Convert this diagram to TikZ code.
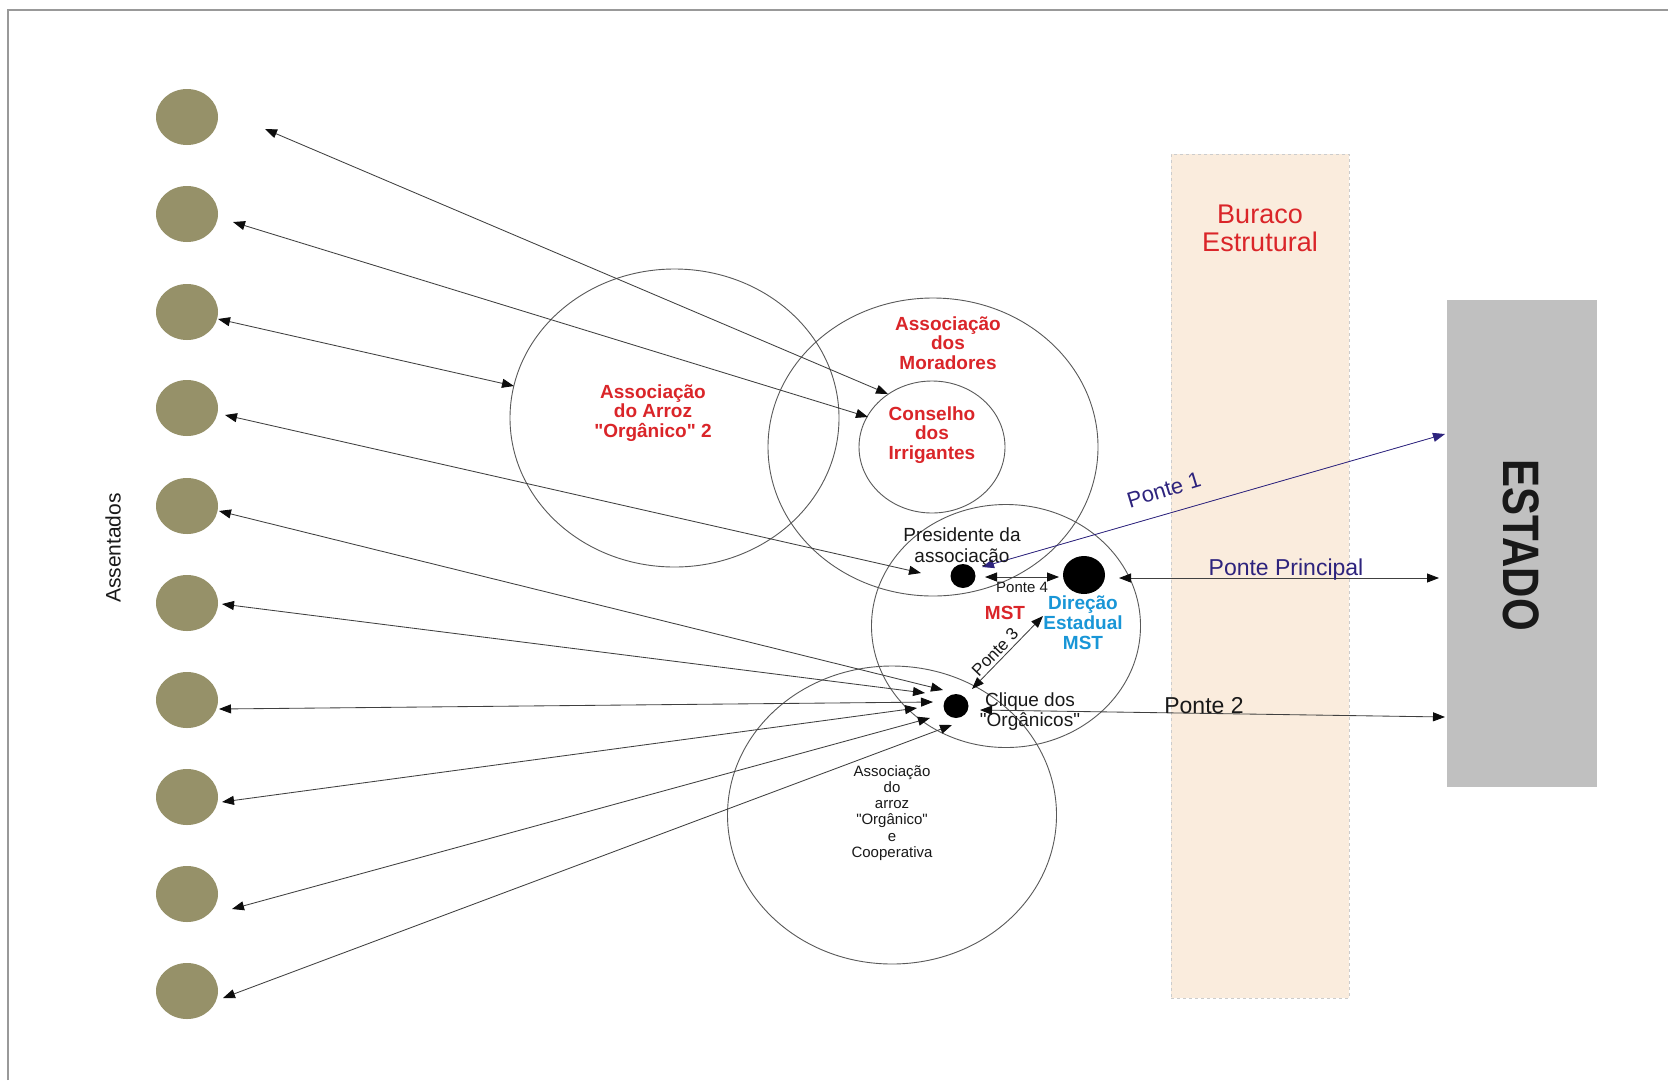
\documentclass[tikz,border=0pt]{standalone}
\usepackage{fontspec}
\setmainfont{Liberation Sans}[Ligatures=TeXOff]
\usetikzlibrary{arrows.meta,shapes.geometric}
\definecolor{asscol}{RGB}{150,145,105}
\definecolor{labred}{RGB}{218,37,41}
\definecolor{dirblue}{RGB}{25,150,215}
\definecolor{navy}{RGB}{45,35,125}
\definecolor{holefill}{RGB}{250,236,221}
\definecolor{stategray}{RGB}{192,192,192}
\newcommand{\sq}{\symbol{34}}
\begin{document}
\begin{tikzpicture}[x=1pt,y=-1pt,
  ring/.style={draw=black!65, line width=0.9pt, ellipse, inner sep=0pt},
  settler/.style={fill=asscol, ellipse, inner sep=0pt, minimum width=62pt, minimum height=56pt},
  bigdot/.style={fill=black, ellipse, inner sep=0pt},
  link/.style={{Triangle[length=12pt,width=9pt,color=black!95]}-{Triangle[length=12pt,width=9pt,color=black!95]}, draw=black!75, line width=0.85pt},
  navylink/.style={{Triangle[length=12pt,width=9pt]}-{Triangle[length=12pt,width=9pt]}, draw=navy, fill=navy, line width=0.8pt},
  redlabel/.style={text=labred, font=\fontsize{19}{19.5}\selectfont\bfseries, align=center, inner sep=0pt},
  plainlabel/.style={text=black!90, align=center, inner sep=0pt}
]
\useasboundingbox (0,0) rectangle (1668,1080);
\fill[white] (0,0) rectangle (1668,1080);
% frame
\draw[black!40, line width=1.5pt] (8,1080) -- (8,10) -- (1668,10);

% structural hole and state
\node[draw=black!20, dashed, fill=holefill, inner sep=0pt, minimum width=178pt, minimum height=844pt] (hole) at (1260,576) {};
\node[fill=stategray, inner sep=0pt, minimum width=150pt, minimum height=487pt] (estado) at (1522,543.5) {};
\node[rotate=-90, text=black!90, font=\fontsize{42}{42}\selectfont\bfseries, inner sep=0pt] (estadotxt) at (1521,545) {\scalebox{1}[1.22]{ESTADO}};
\node[text=labred, font=\fontsize{27}{28}\selectfont, align=center, inner sep=0pt] (buraco) at (1260,228) {Buraco\\Estrutural};

% settlers
\foreach \i/\y in {1/117,2/214,3/312,4/408,5/506,6/603,7/700,8/797,9/894,10/991}
  \node[settler] (s\i) at (187,\y) {};
\node[rotate=90, text=black!90, font=\fontsize{21}{21}\selectfont, inner sep=0pt] (assent) at (113,548) {Assentados};

% rings
\node[ring, minimum width=329pt, minimum height=298pt] (arroz2) at (674.5,418) {};
\node[ring, minimum width=330pt, minimum height=298pt] (morad) at (933,447) {};
\node[ring, minimum width=146pt, minimum height=132pt] (cons) at (932,447) {};
\node[ring, minimum width=269pt, minimum height=243pt] (mst) at (1006,626) {};
\node[ring, minimum width=329pt, minimum height=298pt] (coop) at (892,815) {};

% dots
\node[bigdot, minimum width=25pt, minimum height=24pt] (pres) at (963,576) {};
\node[bigdot, minimum width=42pt, minimum height=38pt] (dir) at (1084,575) {};
\node[bigdot, minimum width=25pt, minimum height=24pt] (cliq) at (956,706) {};

% arrow end coordinates
\coordinate (l1) at (265,129); \coordinate (r1) at (888,394);
\coordinate (l2) at (233,222); \coordinate (r2) at (868,417);
\coordinate (l3) at (218,319); \coordinate (r3) at (514,386);
\coordinate (l4) at (225,415); \coordinate (r4) at (921,573);
\coordinate (l5) at (219,511); \coordinate (r5) at (943,690);
\coordinate (l6) at (222,604); \coordinate (r6) at (925,693);
\coordinate (l7) at (219,709); \coordinate (r7) at (933,702);
\coordinate (l8) at (222,802); \coordinate (r8) at (917,708);
\coordinate (l9) at (232,909); \coordinate (r9) at (930,718);
\coordinate (l10) at (223,998); \coordinate (r10) at (952,725);
\foreach \i in {1,...,10} \draw[link] (l\i) -- (r\i);

\coordinate (p1a) at (982,567); \coordinate (p1b) at (1445,434);
\draw[navylink] (p1a) -- (p1b);
\coordinate (p4a) at (985,577); \coordinate (p4b) at (1059,577);
\draw[link] (p4a) -- (p4b);
\coordinate (p3a) at (972,689); \coordinate (p3b) at (1043,616);
\draw[link] (p3a) -- (p3b);
\coordinate (ppa) at (1119,578); \coordinate (ppb) at (1439,578);
\draw[link] (ppa) -- (ppb);
\coordinate (p2a) at (980,710); \coordinate (p2b) at (1445,717);
\draw[link] (p2a) -- (p2b);

% labels
\node[redlabel] (larroz2) at (653,413) {Associação\\do Arroz\\\sq Orgânico\sq{} 2};
\node[redlabel] (lmorad) at (948,343) {Associação\\dos\\Moradores};
\node[redlabel] (lcons) at (932,435) {Conselho\\dos\\Irrigantes};
\node[plainlabel, font=\fontsize{19}{21}\selectfont] (lpres) at (962,547) {Presidente da\\associação};
\node[plainlabel, font=\fontsize{19}{20}\selectfont] (lcliq) at (1030,712) {Clique dos\\\sq Orgânicos\sq};
\node[text=dirblue, font=\fontsize{19}{20}\selectfont\bfseries, align=center, inner sep=0pt] (ldir) at (1083,623) {Direção\\Estadual\\MST};
\node[text=labred, font=\fontsize{19}{19}\selectfont\bfseries, inner sep=0pt] (lmst) at (1005,613) {MST};
\node[plainlabel, font=\fontsize{15}{15}\selectfont] (lp4) at (1022,587) {Ponte 4};
\node[plainlabel, rotate=46, font=\fontsize{17}{17}\selectfont] (lp3) at (995,652) {Ponte 3};
\node[text=navy, rotate=17, font=\fontsize{22}{22}\selectfont, inner sep=0pt] (lp1) at (1164,490) {Ponte 1};
\node[text=navy, font=\fontsize{23}{23}\selectfont, inner sep=0pt, anchor=base] (lpp) at (1286,575) {Ponte Principal};
\node[plainlabel, font=\fontsize{23}{23}\selectfont, anchor=base] (lp2) at (1204,713) {Ponte 2};
\node[plainlabel, font=\fontsize{15}{16.2}\selectfont] (lcoop) at (892,813) {Associação\\do\\arroz\\\sq Orgânico\sq\\e\\Cooperativa};
\end{tikzpicture}
\end{document}
